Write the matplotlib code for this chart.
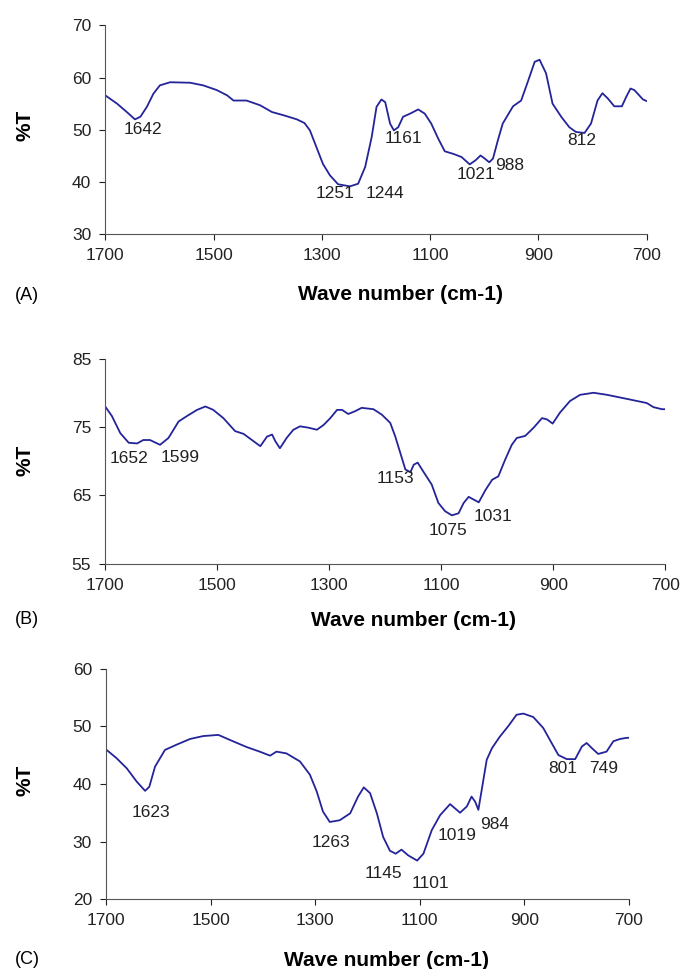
import matplotlib.pyplot as plt

plt.rcParams['font.family'] = ['Liberation Sans', 'DejaVu Sans']

# panel A
wn_a = [1700, 1678, 1660, 1645, 1635, 1623, 1611, 1599, 1580, 1543, 1519, 1494, 1475, 1463,
        1439, 1414, 1392, 1371, 1346, 1332, 1322, 1310, 1298, 1285, 1270, 1248, 1233, 1220,
        1208, 1199, 1190, 1183, 1174, 1167, 1159, 1150, 1137, 1122, 1110, 1098, 1085, 1073,
        1057, 1042, 1027, 1016, 1007, 999, 991, 984, 975, 966, 947, 932, 920, 907, 898, 886,
        874, 858, 843, 831, 815, 803, 791, 782, 772, 760, 746, 738, 730, 723, 707, 700]
t_a = [56.6, 55.0, 53.4, 52.0, 52.5, 54.4, 56.9, 58.5, 59.1, 59.0, 58.5, 57.6, 56.6, 55.6,
       55.6, 54.7, 53.4, 52.8, 52.0, 51.3, 49.9, 46.7, 43.5, 41.3, 39.6, 39.2, 39.7, 42.9,
       48.6, 54.4, 55.8, 55.3, 51.2, 49.9, 50.5, 52.5, 53.1, 53.9, 53.1, 51.2, 48.3, 45.9,
       45.4, 44.8, 43.4, 44.2, 45.1, 44.5, 43.8, 44.5, 48.0, 51.2, 54.5, 55.6, 59.1, 63.0,
       63.4, 60.8, 55.0, 52.5, 50.5, 49.6, 49.4, 51.2, 55.6, 57.0, 56.0, 54.5, 54.5, 56.3,
       57.9, 57.6, 55.8, 55.5]
picos_a = ['1642', '1251', '1244', '1161', '1021', '988', '812']
picos_a_x = [1630, 1276, 1183, 1150, 1016, 953, 821]
picos_a_y = [50.1, 37.9, 37.9, 48.3, 41.5, 43.2, 47.9]

# panel B
wn_b = [1700, 1688, 1673, 1658, 1643, 1632, 1620, 1602, 1587, 1569, 1554, 1536, 1521, 1507,
        1489, 1468, 1453, 1438, 1423, 1411, 1402, 1396, 1388, 1376, 1364, 1352, 1337, 1322,
        1310, 1298, 1286, 1277, 1266, 1254, 1242, 1221, 1206, 1191, 1182, 1173, 1164, 1155,
        1149, 1142, 1132, 1117, 1105, 1093, 1081, 1069, 1060, 1051, 1042, 1033, 1021, 1009,
        998, 986, 974, 965, 950, 935, 920, 911, 901, 888, 870, 852, 828, 804, 768, 733, 721,
        706, 700]
t_b = [78.0, 76.6, 74.1, 72.7, 72.6, 73.1, 73.1, 72.4, 73.4, 75.8, 76.6, 77.5, 78.0, 77.5,
       76.3, 74.4, 74.0, 73.1, 72.2, 73.6, 73.9, 72.9, 71.9, 73.4, 74.6, 75.1, 74.9, 74.6,
       75.3, 76.3, 77.5, 77.5, 76.9, 77.3, 77.8, 77.6, 76.8, 75.6, 73.6, 71.2, 68.8, 68.4,
       69.5, 69.8, 68.5, 66.6, 63.9, 62.7, 62.1, 62.4, 63.9, 64.8, 64.4, 64.0, 65.8, 67.3,
       67.8, 70.2, 72.4, 73.4, 73.7, 74.9, 76.3, 76.1, 75.5, 77.1, 78.8, 79.7, 80.0, 79.7,
       79.1, 78.5, 77.9, 77.6, 77.6]
picos_b = ['1652', '1599', '1153', '1075', '1031']
picos_b_x = [1658, 1566, 1181, 1087, 1007]
picos_b_y = [70.4, 70.6, 67.5, 59.9, 61.9]

# panel C
wn_c = [1700, 1680, 1660, 1641, 1625, 1617, 1606, 1587, 1565, 1539, 1514, 1485, 1457, 1431,
        1406, 1386, 1374, 1355, 1329, 1310, 1297, 1285, 1272, 1253, 1233, 1218, 1207, 1195,
        1182, 1170, 1157, 1146, 1135, 1122, 1105, 1093, 1077, 1061, 1042, 1023, 1010, 1001,
        994, 988, 981, 972, 962, 947, 931, 915, 902, 883, 864, 848, 835, 819, 803, 790, 781,
        771, 759, 743, 730, 717, 704, 700]
t_c = [46.0, 44.5, 42.7, 40.4, 38.8, 39.5, 43.0, 45.9, 46.8, 47.8, 48.3, 48.5, 47.4, 46.4,
       45.6, 44.9, 45.6, 45.3, 43.9, 41.6, 38.7, 35.2, 33.4, 33.7, 34.9, 37.8, 39.4, 38.4,
       34.9, 30.8, 28.4, 27.9, 28.6, 27.6, 26.7, 27.9, 32.0, 34.6, 36.5, 35.0, 36.1, 37.8,
       36.9, 35.5, 39.3, 44.2, 46.2, 48.2, 50.0, 52.0, 52.2, 51.6, 49.7, 47.1, 45.0, 44.3,
       44.3, 46.5, 47.1, 46.2, 45.2, 45.6, 47.4, 47.8, 48.0, 48.0]
picos_c = ['1623', '1263', '1145', '1101', '1019', '984', '801', '749']
picos_c_x = [1613, 1270, 1170, 1079, 1028, 956, 826, 749]
picos_c_y = [35.0, 29.8, 24.5, 22.7, 31.1, 33.0, 42.6, 42.6]

paneles = [
    (wn_a, t_a, picos_a, picos_a_x, picos_a_y, (30, 70), [30, 40, 50, 60, 70], '(A)'),
    (wn_b, t_b, picos_b, picos_b_x, picos_b_y, (55, 85), [55, 65, 75, 85], '(B)'),
    (wn_c, t_c, picos_c, picos_c_x, picos_c_y, (20, 60), [20, 30, 40, 50, 60], '(C)'),
]
# axes boxes in figure fractions
cajas = [[0.154, 0.758, 0.793, 0.216],
         [0.154, 0.418, 0.820, 0.212],
         [0.155, 0.072, 0.766, 0.238]]
xlab_pos = [(400, 295), (413, 620), (387, 960)]
ylab_y = [125, 460, 780]

W, H = 683, 969
fig = plt.figure(figsize=(W / 100, H / 100), dpi=100)
color = '#24249a'

for i, (wn, t, picos, px, py, ylim, yt, letra) in enumerate(paneles):
    ax = fig.add_axes(cajas[i])
    ax.plot(wn, t, color=color, lw=1.3)
    for lab, x, y in zip(picos, px, py):
        ax.text(x, y, lab, ha='center', va='center', fontsize=12.5, color='#222222')
    ax.set_xlim(1700, 700)
    ax.set_ylim(*ylim)
    ax.set_xticks([1700, 1500, 1300, 1100, 900, 700])
    ax.set_yticks(yt)
    ax.tick_params(labelsize=12.5, length=4, width=0.8, colors='#222222', pad=6)
    ax.spines['top'].set_visible(False)
    ax.spines['right'].set_visible(False)
    for s in ['left', 'bottom']:
        ax.spines[s].set_color('#555555')
    fig.text(xlab_pos[i][0] / W, 1 - xlab_pos[i][1] / H, 'Wave number (cm-1)',
             ha='center', va='center', fontsize=15, fontweight='bold')
    fig.text(27 / W, 1 - xlab_pos[i][1] / H, letra, ha='center', va='center', fontsize=13)
    fig.text(25 / W, 1 - ylab_y[i] / H, '%T', ha='center', va='center', fontsize=15,
             fontweight='bold', rotation=90)

fig.savefig('out.png', dpi=100)
